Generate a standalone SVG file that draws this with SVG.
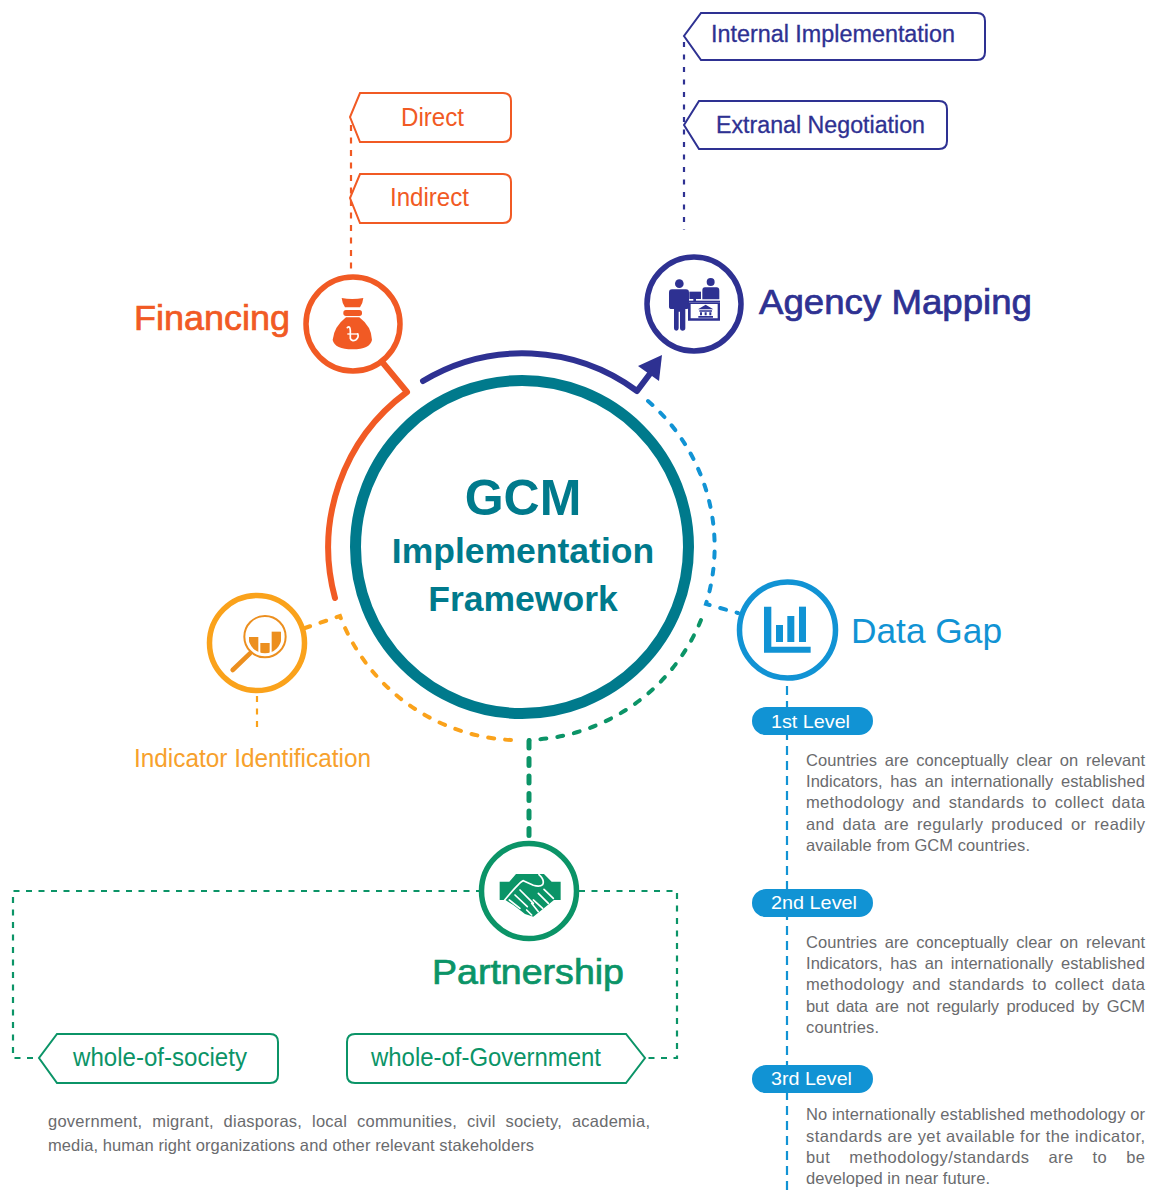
<svg xmlns="http://www.w3.org/2000/svg" width="1156" height="1194" viewBox="0 0 1156 1194">
<style>
text{font-family:"Liberation Sans",Arial,sans-serif}
.h{stroke-width:.7}
.h2{stroke-width:.3}
.c{font-weight:700;fill:#007a8c}
.b{font-size:16.5px;fill:#6a6b6e}
.p{font-size:19px;fill:#fff}
.t{fill:#fff;stroke-width:2}
.ring{fill:#fff;stroke-width:5.5}
.d{fill:none;stroke-linecap:round;stroke-width:4;stroke-dasharray:6 11}
.thin{fill:none;stroke-width:2.2;stroke-dasharray:6 6.500}
.solid{fill:none;stroke-linecap:round;stroke-linejoin:round;stroke-width:6}
</style>
<defs>
<clipPath id="lens"><circle cx="210" cy="155" r="50"/></clipPath>
</defs>
<rect width="1156" height="1194" fill="#fff"/>
<g id="connectors">
<path class="thin" stroke="#f15a24" d="M351 125V272"/>
<path class="thin" stroke="#2e3192" d="M684 42V230" style="stroke-dasharray:5 7.500"/>
<path class="thin" stroke="#faa21b" d="M257 696V733"/>
<path class="thin" stroke="#0b9467" d="M482 891H13V1058H38"/>
<path class="thin" stroke="#0b9467" d="M579 891H677V1058H645"/>
<path class="thin" stroke="#1193d4" d="M787 686V1190" style="stroke-dasharray:9 6"/>
<path class="solid" stroke="#f15a24" d="M335 598A193 193 0 0 1 407 392L383 363"/>
<path class="solid" stroke="#2e3192" d="M423 381A193 193 0 0 1 637 391L652 371"/>
<polygon fill="#2e3192" points="662,355 638,366 659,381"/>
<path class="d" stroke="#1193d4" d="M648 401A193 193 0 0 1 706 604L738 613"/>
<path class="d" stroke="#0b9467" d="M701 620A193 193 0 0 1 529 740"/>
<path class="d" stroke="#faa21b" d="M511 740A193 193 0 0 1 340 616L305 628"/>
<path class="d" stroke="#0b9467" d="M529 741V843" style="stroke-width:5;stroke-dasharray:7 10.500"/>
</g>
<g id="center">
<circle cx="522" cy="547" r="166.500" fill="#fff" stroke="#007a8c" stroke-width="11"/>
<text class="c" x="523" y="515" text-anchor="middle" font-size="50">GCM</text>
<text class="c" x="523" y="563" text-anchor="middle" font-size="35.5">Implementation</text>
<text class="c" x="523" y="611" text-anchor="middle" font-size="35.5">Framework</text>
</g>
<g id="financing">
<circle class="ring" cx="353" cy="324" r="47" stroke="#f15a24"/>
<g transform="translate(290 260) scale(.3333)" fill="#f15a24">
<path d="M155 114Q186 120 220 114Q218 132 210 142H165Q157 132 155 114Z"/>
<rect x="160" y="150" width="56" height="18" rx="8"/>
<path d="M168 172H208Q245 200 246 240Q240 268 188 268Q134 268 128 240Q132 200 168 172Z"/>
<path d="M172 203Q180 195 181 212V235Q185 245 197 240Q208 232 203 222" fill="none" stroke="#fff" stroke-width="5" stroke-linecap="round"/>
<path d="M172 222H205" fill="none" stroke="#fff" stroke-width="4"/>
</g>
<text class="h" x="134" y="330" font-size="35" fill="#f15a24" stroke="#f15a24" textLength="156" lengthAdjust="spacingAndGlyphs">Financing</text>
</g>
<g id="agency-mapping">
<circle class="ring" cx="694" cy="304" r="47" stroke="#2e3192"/>
<g transform="translate(620 240) scale(.3333)" fill="#2e3192">
<circle cx="178" cy="131" r="13"/>
<path d="M156 148H198Q207 148 207 158V200Q207 207 201 207H196V265Q196 272 187 272Q180 272 180 265V215H176V265Q176 272 169 272Q162 272 162 265V207H155Q147 207 147 200V158Q147 148 156 148Z"/>
<circle cx="272" cy="126" r="12"/>
<path d="M255 142H290Q298 142 298 152V178H247V152Q247 142 255 142Z"/>
<rect x="208" y="155" width="35" height="22"/>
<rect x="220" y="177" width="8" height="6"/>
<rect x="204" y="182" width="96" height="6"/>
<path fill-rule="evenodd" d="M204 188H300V242H204ZM212 192V235H293V192Z"/>
<path d="M234 208L257 194L280 208ZM238 211H276V215H238ZM240 217H246V226H240ZM254 217H260V226H254ZM268 217H274V226H268ZM235 228H279V233H235Z"/>
</g>
<text class="h" x="759" y="314" font-size="35" fill="#2e3192" stroke="#2e3192" textLength="273" lengthAdjust="spacingAndGlyphs">Agency Mapping</text>
</g>
<g id="data-gap">
<circle class="ring" cx="787.500" cy="630" r="48" stroke="#1193d4"/>
<g transform="translate(690 570) scale(.3333)" fill="#1193d4">
<path d="M222 110H244V230H362V248H222Z"/>
<rect x="258" y="165" width="21" height="51"/>
<rect x="292" y="138" width="21" height="78"/>
<rect x="327" y="110" width="21" height="106"/>
</g>
<text x="851" y="643" font-size="35" fill="#1193d4" textLength="151" lengthAdjust="spacingAndGlyphs">Data Gap</text>
</g>
<g id="indicator-identification">
<circle class="ring" cx="257" cy="643" r="47.500" stroke="#faa21b"/>
<g transform="translate(195 585) scale(.3333)">
<circle cx="210" cy="155" r="62" fill="none" stroke="#ec8f1f" stroke-width="6"/>
<path d="M165 205L113 255" stroke="#ec8f1f" stroke-width="14" stroke-linecap="round"/>
<g clip-path="url(#lens)" fill="#ec8f1f">
<rect x="162" y="156" width="28" height="50"/>
<rect x="196" y="174" width="28" height="40"/>
<rect x="230" y="140" width="28" height="70"/>
</g>
</g>
<text x="134" y="767" font-size="26" fill="#f7a12c" textLength="237" lengthAdjust="spacingAndGlyphs">Indicator Identification</text>
</g>
<g id="partnership">
<circle class="ring" cx="529" cy="891" r="47.500" stroke="#0b9467"/>
<g transform="translate(470 730) scale(.3333)">
<path fill="#0b9467" d="M89 455H118L138 432H222L245 455H272V510H252L190 560L165 552L130 525L106 510H89Z"/>
<g fill="none" stroke="#fff" stroke-width="5" stroke-linecap="round" stroke-linejoin="round">
<path d="M207 434Q225 450 218 464Q210 472 190 466L160 452Q150 455 104 510"/>
<path d="M118 510L150 535M135 495L172 530M150 480L190 520"/>
<path d="M222 478L250 505M205 490L235 520M190 510L218 535M170 540L185 555M185 520L205 545"/>
</g>
</g>
<text class="h" x="432" y="984" font-size="35" fill="#0b9467" stroke="#0b9467" textLength="192" lengthAdjust="spacingAndGlyphs">Partnership</text>
</g>
<g id="direct">
<path class="t" stroke="#f15a24" d="M360 93H503Q511 93 511 101V134Q511 142 503 142H360L350 117Z"/>
<text x="401" y="126" font-size="25" fill="#f15a24" textLength="63" lengthAdjust="spacingAndGlyphs">Direct</text>
</g>
<g id="indirect">
<path class="t" stroke="#f15a24" d="M360 174H503Q511 174 511 182V215Q511 223 503 223H360L350 198Z"/>
<text x="390" y="206" font-size="25" fill="#f15a24" textLength="79" lengthAdjust="spacingAndGlyphs">Indirect</text>
</g>
<g id="internal-implementation">
<path class="t" stroke="#2e3192" d="M701 13H977Q985 13 985 21V52Q985 60 977 60H701L684 36Z"/>
<text class="h2" x="711" y="42" font-size="23" fill="#2e3192" stroke="#2e3192" textLength="244" lengthAdjust="spacingAndGlyphs">Internal Implementation</text>
</g>
<g id="extranal-negotiation">
<path class="t" stroke="#2e3192" d="M699 101H939Q947 101 947 109V141Q947 149 939 149H699L684 125Z"/>
<text class="h2" x="716" y="133" font-size="23" fill="#2e3192" stroke="#2e3192" textLength="209" lengthAdjust="spacingAndGlyphs">Extranal Negotiation</text>
</g>
<g id="whole-of-society">
<path class="t" stroke="#0b9467" d="M57 1034H270Q278 1034 278 1042V1075Q278 1083 270 1083H57L39 1058Z"/>
<text x="73" y="1066" font-size="25" fill="#0b9467" textLength="174" lengthAdjust="spacingAndGlyphs">whole-of-society</text>
</g>
<g id="whole-of-government">
<path class="t" stroke="#0b9467" d="M355 1034H626L645 1058L626 1083H355Q347 1083 347 1075V1042Q347 1034 355 1034Z"/>
<text x="371" y="1066" font-size="25" fill="#0b9467" textLength="230" lengthAdjust="spacingAndGlyphs">whole-of-Government</text>
</g>
<g id="stakeholders">
<text class="b" x="48" y="1127" textLength="602" lengthAdjust="spacing" word-spacing="5">government, migrant, diasporas, local communities, civil society, academia,</text>
<text class="b" x="48" y="1151" textLength="486" lengthAdjust="spacing">media, human right organizations and other relevant stakeholders</text>
</g>
<g id="level-1">
<rect x="752" y="707" width="121" height="28" rx="14" fill="#1193d4"/>
<text class="p" x="771" y="728" textLength="79" lengthAdjust="spacingAndGlyphs">1st Level</text>
<text class="b" x="806" y="766" textLength="339" lengthAdjust="spacing" word-spacing="3">Countries are conceptually clear on relevant</text>
<text class="b" x="806" y="787" textLength="339" lengthAdjust="spacing" word-spacing="3">Indicators, has an internationally established</text>
<text class="b" x="806" y="808" textLength="339" lengthAdjust="spacing" word-spacing="3">methodology and standards to collect data</text>
<text class="b" x="806" y="830" textLength="339" lengthAdjust="spacing" word-spacing="3">and data are regularly produced or readily</text>
<text class="b" x="806" y="851" textLength="224" lengthAdjust="spacing">available from GCM countries.</text>
</g>
<g id="level-2">
<rect x="752" y="889" width="121" height="28" rx="14" fill="#1193d4"/>
<text class="p" x="771" y="909" textLength="86" lengthAdjust="spacingAndGlyphs">2nd Level</text>
<text class="b" x="806" y="948" textLength="339" lengthAdjust="spacing" word-spacing="3">Countries are conceptually clear on relevant</text>
<text class="b" x="806" y="969" textLength="339" lengthAdjust="spacing" word-spacing="3">Indicators, has an internationally established</text>
<text class="b" x="806" y="990" textLength="339" lengthAdjust="spacing" word-spacing="3">methodology and standards to collect data</text>
<text class="b" x="806" y="1012" textLength="339" lengthAdjust="spacing" word-spacing="3">but data are not regularly produced by GCM</text>
<text class="b" x="806" y="1033" textLength="73" lengthAdjust="spacing">countries.</text>
</g>
<g id="level-3">
<rect x="752" y="1065" width="121" height="28" rx="14" fill="#1193d4"/>
<text class="p" x="771" y="1085" textLength="81" lengthAdjust="spacingAndGlyphs">3rd Level</text>
<text class="b" x="806" y="1120" textLength="339" lengthAdjust="spacing">No internationally established methodology or</text>
<text class="b" x="806" y="1142" textLength="339" lengthAdjust="spacing">standards are yet available for the indicator,</text>
<text class="b" x="806" y="1163" textLength="339" lengthAdjust="spacing" word-spacing="14">but methodology/standards are to be</text>
<text class="b" x="806" y="1184" textLength="184" lengthAdjust="spacing">developed in near future.</text>
</g>
</svg>
